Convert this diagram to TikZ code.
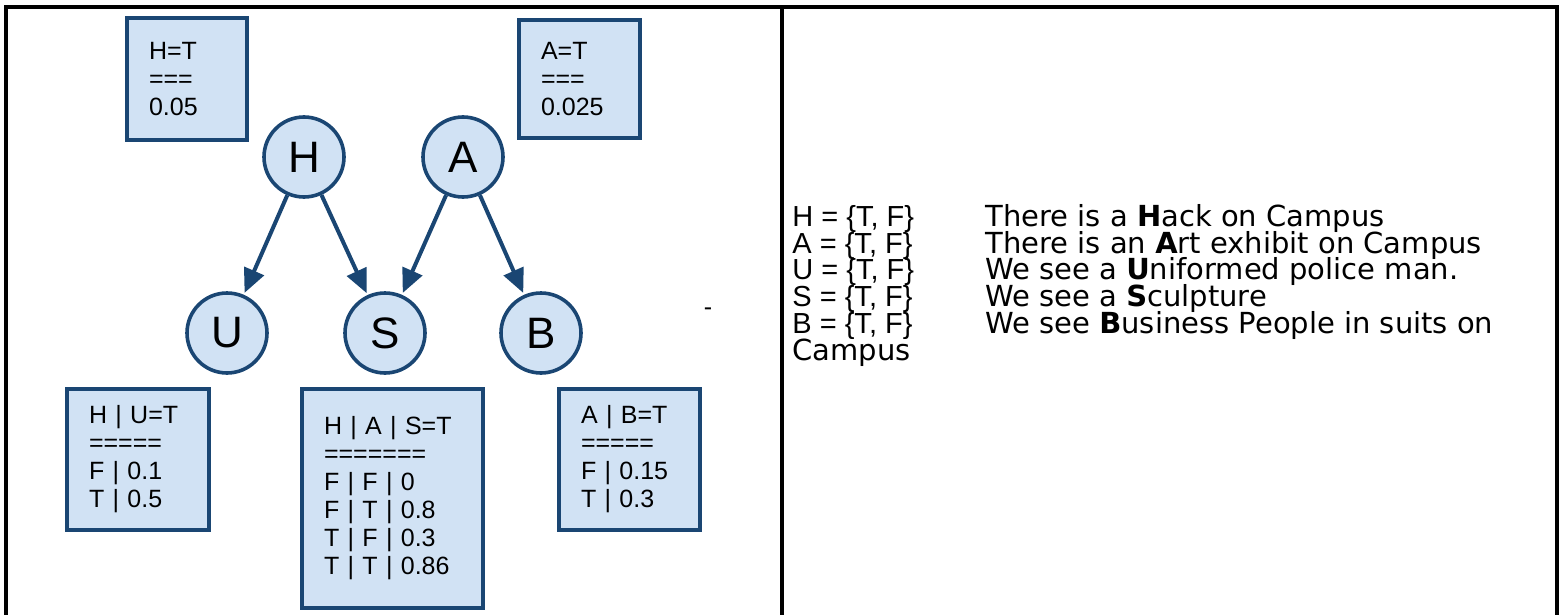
\documentclass[tikz,border=0pt]{standalone}
\usepackage{fontspec}
\setmainfont{Liberation Sans}
\newfontfamily\deffont{DejaVu Sans}
\usetikzlibrary{arrows.meta}
\definecolor{cptfill}{RGB}{209,226,244}
\definecolor{cptline}{RGB}{26,70,115}
\tikzset{
  var/.style={circle, draw=cptline, fill=cptfill, line width=1.8pt, minimum size=40pt, inner sep=0pt, font=\fontsize{22}{24}\selectfont},
  cpt/.style={draw=cptline, fill=cptfill, line width=2pt, inner xsep=11pt, inner ysep=0pt, align=left, font=\fontsize{12.5}{14}\selectfont},
  dep/.style={draw=cptline, line width=2pt, -{Triangle[length=12pt,width=10.5pt]}, shorten >=1pt},
  defs/.style={anchor=base west, inner sep=0pt, align=left, font={\fontsize{14.5}{13.35}\selectfont\lineskiplimit=-20pt}},
  frame/.style={line width=2pt}
}
\newcommand{\varcol}[2]{\makebox[96.5pt][l]{#1}{\deffont\fontsize{14.5}{13.35}\selectfont #2}}
\begin{document}
\begin{tikzpicture}[x=0.5pt,y=-0.5pt]
    \useasboundingbox (0,0) rectangle (1562,615);
    \draw[frame] (6,615) -- (6,7) -- (1557,7) -- (1557,615);
    \draw[frame] (782,7) -- (782,615);

    \node[var] (H) at (304,157) {H};
    \node[var] (A) at (463,157) {A};
    \node[var] (U) at (227,333) {U};
    \node[var] (S) at (385,333) {S};
    \node[var] (B) at (541,333) {B};

    \draw[dep] (H) -- (U);
    \draw[dep] (H) -- (S);
    \draw[dep] (A) -- (S);
    \draw[dep] (A) -- (B);

    \node[cpt, minimum width=60pt, minimum height=61pt, text width=38pt] (cptH) at (187,79) {H=T\\===\\0.05};
    \node[cpt, minimum width=60.5pt, minimum height=59pt, text width=38.5pt] (cptA) at (579.5,79) {A=T\\===\\0.025};
    \node[cpt, minimum width=71pt, minimum height=70.5pt, text width=49pt] (cptU) at (138,459.5) {H | U=T\\=====\\F | 0.1\\T | 0.5};
    \node[cpt, minimum width=90.5pt, minimum height=109.5pt, text width=68.5pt] (cptS) at (392.5,498.5) {H | A | S=T\\=======\\F | F | 0\\F | T | 0.8\\T | F | 0.3\\T | T | 0.86};
    \node[cpt, minimum width=70.5pt, minimum height=70.5pt, text width=48.5pt] (cptB) at (629.5,459.5) {A | B=T\\=====\\F | 0.15\\T | 0.3};

    \node[font=\fontsize{12.5}{14}\selectfont] (dash) at (708,312) {-};

    \node[defs] (legend) at (792,360) {%
      \varcol{H = \{T, F\}}{There is a \textbf{H}ack on Campus}\\
      \varcol{A = \{T, F\}}{There is an \textbf{A}rt exhibit on Campus}\\
      \varcol{U = \{T, F\}}{We see a \textbf{U}niformed police man.}\\
      \varcol{S = \{T, F\}}{We see a \textbf{S}culpture}\\
      \varcol{B = \{T, F\}}{We see \textbf{B}usiness People in suits on}\\
      {\deffont\fontsize{14.5}{13.35}\selectfont Campus}};
\end{tikzpicture}
\end{document}
